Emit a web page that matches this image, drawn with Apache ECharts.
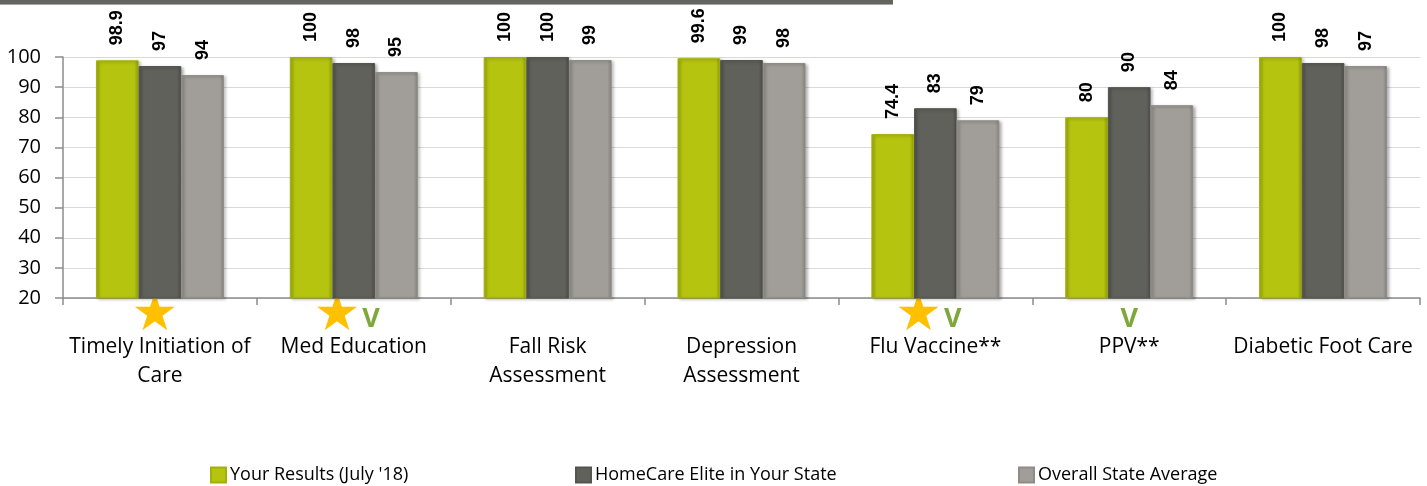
<!DOCTYPE html>
<html>
<head>
<meta charset="utf-8">
<script src="https://cdn.jsdelivr.net/npm/echarts@6/dist/echarts.min.js"></script>
<style>
html,body{margin:0;padding:0;background:#fff;}
#chart{width:1427px;height:486px;}
</style>
</head>
<body>
<div id="chart"></div>
<script>
const categories = ['Timely Initiation of\nCare', 'Med Education', 'Fall Risk\nAssessment', 'Depression\nAssessment', 'Flu Vaccine**', 'PPV**', 'Diabetic Foot Care'];
const seriesNames = ["Your Results (July '18)", 'HomeCare Elite in Your State', 'Overall State Average'];
const yourResults = [98.9, 100, 100, 99.6, 74.4, 80, 100];
const eliteState = [97, 98, 100, 99, 83, 90, 98];
const stateAverage = [94, 95, 99, 98, 79, 84, 97];
const starMarks = [1, 1, 0, 0, 1, 0, 0];
const checkMarks = [0, 1, 0, 0, 1, 1, 0];
const yTicks = [20, 30, 40, 50, 60, 70, 80, 90, 100];

function barGrad(edge, main, edge2) {
  return new echarts.graphic.LinearGradient(0, 0, 1, 0, [
    {offset: 0, color: edge}, {offset: 0.1, color: main},
    {offset: 0.9, color: main}, {offset: 1, color: edge2}
  ]);
}
const colors = [
  barGrad('#9eab0a', '#b5c40f', '#8c9808'),
  barGrad('#50514c', '#60615b', '#4a4b46'),
  barGrad('#8e8b86', '#a19e99', '#85827d')
];
const borders = ['#a3b00c', '#54554f', '#8f8c87'];
const dataSets = [yourResults, eliteState, stateAverage];

const chart = echarts.init(document.getElementById('chart'));
const series = dataSets.map((d, i) => ({
  name: seriesNames[i],
  type: 'bar',
  data: d,
  barGap: '0%',
  barCategoryGap: '34%',
  itemStyle: {
    color: colors[i],
    borderColor: borders[i],
    borderWidth: 1,
    shadowColor: 'rgba(0,0,0,0.3)',
    shadowBlur: 3,
    shadowOffsetX: 2,
    shadowOffsetY: 1
  },
  label: {
    show: true,
    position: 'top',
    rotate: 90,
    align: 'left',
    verticalAlign: 'middle',
    distance: 15,
    fontFamily: 'Liberation Sans',
    fontWeight: 'bold',
    fontSize: 18,
    color: '#000'
  }
}));

const legendLefts = [205, 570, 1013];
const legends = seriesNames.map((n, i) => ({
  data: [n],
  left: legendLefts[i],
  top: 461,
  icon: 'rect',
  itemWidth: 15,
  itemHeight: 15,
  itemGap: 0,
  textStyle: {fontFamily: 'Open Sans', fontSize: 18, color: '#000', padding: [0, 0, 0, -1]}
}));

chart.setOption({
  animation: false,
  backgroundColor: '#fff',
  graphic: [
    {type: 'rect', left: 0, top: 0, shape: {width: 893, height: 4}, style: {fill: '#64645e'}},
    {type: 'rect', left: 0, top: 4, shape: {width: 893, height: 1}, style: {fill: '#a8a8a2'}}
  ],
  legend: legends,
  grid: {left: 63, right: 7, top: 57, bottom: 188, containLabel: false},
  xAxis: {
    type: 'category',
    data: categories,
    axisLine: {lineStyle: {color: '#8c8c8c', width: 1.5}},
    axisTick: {show: true, length: 7, lineStyle: {color: '#8c8c8c', width: 1.5}},
    axisLabel: {
      interval: 0,
      margin: 1,
      formatter: function (value, idx) {
        let top = '';
        const st = starMarks[idx], ck = checkMarks[idx];
        if (st && ck) top = '{s|★}{g| }{vp|V}';
        else if (st) top = '{s1|★}';
        else if (ck) top = '{v|V}';
        else top = '{e| }';
        return top + '\n' + value.split('\n').map(l => '{n|' + l + '}').join('\n');
      },
      rich: {
        s: {fontFamily: 'DejaVu Sans', fontSize: 52, color: '#ffc000', lineHeight: 34},
        s1: {fontFamily: 'DejaVu Sans', fontSize: 52, color: '#ffc000', lineHeight: 34, padding: [0, 10, 0, 0]},
        g: {fontSize: 10, lineHeight: 34, width: 2},
        v: {fontFamily: 'Open Sans', fontWeight: 'bold', fontSize: 27, color: '#7ea83a', lineHeight: 34, verticalAlign: 'bottom'},
        vp: {fontFamily: 'Open Sans', fontWeight: 'bold', fontSize: 27, color: '#7ea83a', lineHeight: 34, verticalAlign: 'bottom', padding: [0, 14, 0, 0]},
        e: {fontSize: 10, lineHeight: 34},
        n: {fontFamily: 'Open Sans', fontSize: 21, color: '#000', lineHeight: 29}
      }
    }
  },
  yAxis: {
    type: 'value',
    min: yTicks[0],
    max: yTicks[yTicks.length - 1],
    interval: 10,
    axisLine: {show: true, lineStyle: {color: '#8c8c8c', width: 1.5}},
    axisTick: {show: true, length: 8, lineStyle: {color: '#8c8c8c', width: 1.5}},
    axisLabel: {margin: 22, fontFamily: 'Open Sans', fontSize: 20, color: '#000'},
    splitLine: {lineStyle: {color: '#d9d9d9', width: 1}}
  },
  series: series
});
</script>
</body>
</html>
